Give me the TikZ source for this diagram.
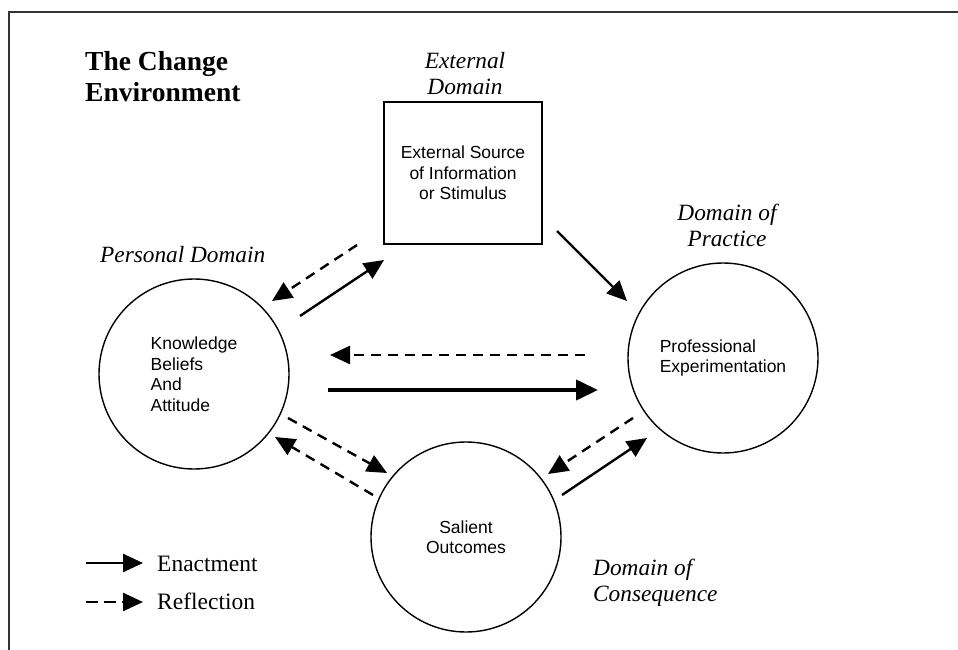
\documentclass[tikz,border=0pt]{standalone}
\usepackage{fontspec}
\setmainfont{Liberation Serif}
\newfontfamily\helv{Liberation Sans}
\usetikzlibrary{arrows.meta}
\tikzset{
  sphere/.style={circle,draw,line width=1.4pt,minimum size=190pt,inner sep=0pt,
    font=\helv\fontsize{17.5}{20.5}\selectfont},
  source/.style={rectangle,draw,line width=1.4pt,minimum width=158pt,minimum height=142pt,
    align=center,font=\helv\fontsize{17.5}{20.5}\selectfont},
  domlabel/.style={inner sep=0pt,font=\itshape\fontsize{23.3}{26}\selectfont},
  keytext/.style={inner sep=0pt,anchor=base west,font=\fontsize{23.5}{26}\selectfont},
  enact/.style={line width=2.4pt,-{Triangle[length=20pt,width=18pt]}},
  reflect/.style={enact,dash pattern=on 10pt off 7pt},
}
\begin{document}
\begin{tikzpicture}[x=1pt,y=-1pt]
\useasboundingbox (0,0) rectangle (958,650);
% frame, only top and left edges show
\draw[line width=1.5pt,black!80] (9,650) -- (9,12) -- (958,12);
\node[inner sep=0pt,anchor=north west,align=left,font=\bfseries\fontsize{27.5}{31}\selectfont]
  (title) at (85,51) {The Change\\Environment};
% the four domains
\node[source] (stim) at (463,173) {External Source\\of Information\\or Stimulus};
\node[sphere,align=left] (kba) at (194,374) {Knowledge\\Beliefs\\And\\Attitude};
\node[sphere,align=left] (pe) at (723,358) {Professional\\Experimentation};
\node[sphere,align=center] (so) at (466,537) {Salient\\Outcomes};
\node[domlabel,anchor=north,align=center] (extdom) at (465,52) {External\\Domain};
\node[domlabel,anchor=base west] (persdom) at (100,262) {Personal Domain};
\node[domlabel,anchor=north,align=center] (pracdom) at (727,204) {Domain of\\Practice};
\node[domlabel,anchor=north west,align=left] (consdom) at (593,559) {Domain of\\Consequence};
% arrow ends
\coordinate (a1) at (357,245); \coordinate (b1) at (272,301);
\coordinate (a2) at (300,316); \coordinate (b2) at (384,260);
\coordinate (a3) at (557,231); \coordinate (b3) at (627,301);
\coordinate (a4) at (585,355); \coordinate (b4) at (330,355);
\coordinate (a5) at (328,390); \coordinate (b5) at (598,390);
\coordinate (a6) at (288,418); \coordinate (b6) at (387,473);
\coordinate (a7) at (373,495); \coordinate (b7) at (275,437);
\coordinate (a8) at (633,418); \coordinate (b8) at (548,474);
\coordinate (a9) at (562,495); \coordinate (b9) at (647,438);
\foreach \i in {2,3,9}{
  \draw[enact] (a\i) -- (b\i);
}
\foreach \i in {1,4,6,7,8}{
  \draw[reflect] (a\i) -- (b\i);
}
% the main enactment arrow is heavier
\draw[line width=4pt,-{Triangle[length=22pt,width=20pt]}] (a5) -- (b5);
% key
\coordinate (keyA) at (86,563); \coordinate (keyB) at (143,563);
\coordinate (keyC) at (86,602); \coordinate (keyD) at (143,602);
\draw[enact,line width=2.6pt] (keyA) -- (keyB);
\draw[reflect,line width=2.6pt,dash pattern=on 12pt off 6pt] (keyC) -- (keyD);
\node[keytext] (enactkey) at (157,571) {Enactment};
\node[keytext] (reflkey) at (157,609) {Reflection};
\end{tikzpicture}
\end{document}
